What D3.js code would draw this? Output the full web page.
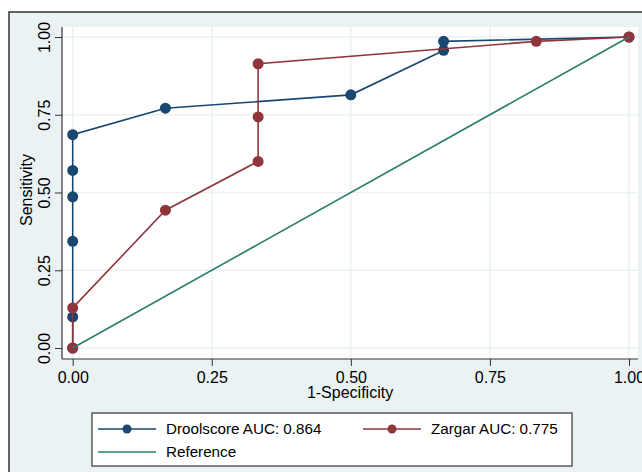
<!DOCTYPE html>
<html>
<head>
<meta charset="utf-8">
<script src="https://cdn.jsdelivr.net/npm/d3@7"></script>
<style>
  body { margin: 0; background: #fff; }
  text { font-family: "Liberation Sans", Arial, sans-serif; fill: #000; }
</style>
</head>
<body>
<div id="main"></div>
<script>
const width = 642;
const height = 472;

// ROC points (1-specificity, sensitivity)
const droolFpr  = [0, 0, 0, 0, 0, 0, 0.1667, 0.5, 0.6667, 0.6667, 1];
const droolSens = [0, 0.100, 0.343, 0.486, 0.571, 0.686, 0.771, 0.814, 0.957, 0.986, 1];
const zargarFpr  = [0, 0, 0.1667, 0.3333, 0.3333, 0.3333, 0.8333, 1];
const zargarSens = [0, 0.129, 0.443, 0.600, 0.743, 0.914, 0.986, 1];
const refFpr  = [0, 1];
const refSens = [0, 1];
const tickValues = [0, 0.25, 0.5, 0.75, 1];
const legendLabels = ['Droolscore AUC: 0.864', 'Zargar AUC: 0.775', 'Reference'];

const colors = { drool: '#1a476f', zargar: '#90353b', ref: '#2a7d6a' };
const plot = { left: 62, right: 638, top: 27, bottom: 359 };

const svg = d3.select('#main')
  .append('svg')
  .attr('width', width)
  .attr('height', height);

// graph region
svg.append('rect')
  .attr('x', 9).attr('y', 12)
  .attr('width', width).attr('height', height)
  .attr('fill', '#eaf2f3')
  .attr('stroke', '#333')
  .attr('stroke-width', 1.5);

// plot region
svg.append('rect')
  .attr('x', plot.left).attr('y', plot.top)
  .attr('width', plot.right - plot.left).attr('height', plot.bottom - plot.top)
  .attr('fill', '#fff');

const xScale = d3.scaleLinear().domain([0, 1]).range([72.7, 629]);
const yScale = d3.scaleLinear().domain([0, 1]).range([348, 37]);

// grid
const grid = svg.append('g').attr('stroke', '#eaf2f3').attr('stroke-width', 1.5);
grid.selectAll('.gx').data(tickValues).join('line')
  .attr('x1', d => xScale(d)).attr('x2', d => xScale(d))
  .attr('y1', plot.top).attr('y2', plot.bottom);
grid.selectAll('.gy').data(tickValues).join('line')
  .attr('y1', d => yScale(d)).attr('y2', d => yScale(d))
  .attr('x1', plot.left).attr('x2', plot.right);

// axes
const fmt = d3.format('.2f');
const xAxisG = svg.append('g')
  .attr('transform', `translate(0,${plot.bottom})`)
  .call(d3.axisBottom(xScale).tickValues(tickValues).tickFormat(fmt).tickSize(7).tickPadding(6));
xAxisG.select('.domain').remove();
xAxisG.selectAll('text').attr('font-size', 16).attr('fill', '#000');
xAxisG.selectAll('line').attr('stroke', '#333');
xAxisG.append('line')
  .attr('x1', plot.left).attr('x2', plot.right)
  .attr('stroke', '#333').attr('stroke-width', 1.2);

const yAxisG = svg.append('g')
  .attr('transform', `translate(${plot.left},0)`)
  .call(d3.axisLeft(yScale).tickValues(tickValues).tickFormat(fmt).tickSize(7).tickPadding(4));
yAxisG.select('.domain').remove();
yAxisG.selectAll('line').attr('stroke', '#333');
yAxisG.selectAll('text')
  .attr('font-size', 16).attr('fill', '#000')
  .attr('text-anchor', 'middle')
  .attr('dy', 0)
  .attr('x', 0)
  .attr('transform', 'translate(-12,0) rotate(-90)');
yAxisG.append('line')
  .attr('y1', plot.top).attr('y2', plot.bottom)
  .attr('stroke', '#333').attr('stroke-width', 1.2);

svg.append('text')
  .attr('x', 350)
  .attr('y', 398)
  .attr('text-anchor', 'middle')
  .attr('font-size', 16)
  .text('1-Specificity');

svg.append('text')
  .attr('transform', `translate(32,${(plot.top + plot.bottom) / 2 - 3}) rotate(-90)`)
  .attr('text-anchor', 'middle')
  .attr('font-size', 16)
  .text('Sensitivity');

// series
const line = d3.line().x(d => xScale(d[0])).y(d => yScale(d[1]));
const series = [
  { pts: d3.zip(droolFpr, droolSens), color: colors.drool, markers: true },
  { pts: d3.zip(zargarFpr, zargarSens), color: colors.zargar, markers: true },
  { pts: d3.zip(refFpr, refSens), color: colors.ref, markers: false }
];
series.forEach(s => {
  const g = svg.append('g');
  g.append('path')
    .attr('d', line(s.pts))
    .attr('fill', 'none')
    .attr('stroke', s.color)
    .attr('stroke-width', 1.6);
  if (s.markers) {
    g.selectAll('circle').data(s.pts).join('circle')
      .attr('cx', d => xScale(d[0]))
      .attr('cy', d => yScale(d[1]))
      .attr('r', 5.5)
      .attr('fill', s.color);
  }
});

// legend
const lg = svg.append('g');
lg.append('rect')
  .attr('x', 92).attr('y', 413)
  .attr('width', 480).attr('height', 53)
  .attr('fill', '#fff')
  .attr('stroke', '#333')
  .attr('stroke-width', 1.2);

const legendItems = [
  { label: legendLabels[0], color: colors.drool, x: 98, y: 429, marker: true },
  { label: legendLabels[1], color: colors.zargar, x: 363, y: 429, marker: true },
  { label: legendLabels[2], color: colors.ref, x: 98, y: 452, marker: false }
];
legendItems.forEach(it => {
  lg.append('line')
    .attr('x1', it.x).attr('x2', it.x + 58)
    .attr('y1', it.y).attr('y2', it.y)
    .attr('stroke', it.color).attr('stroke-width', 1.6);
  if (it.marker) {
    lg.append('circle')
      .attr('cx', it.x + 29).attr('cy', it.y)
      .attr('r', 4.5).attr('fill', it.color);
  }
  lg.append('text')
    .attr('x', it.x + 68).attr('y', it.y)
    .attr('dy', '0.35em')
    .attr('font-size', 15.2)
    .text(it.label);
});
</script>
</body>
</html>
